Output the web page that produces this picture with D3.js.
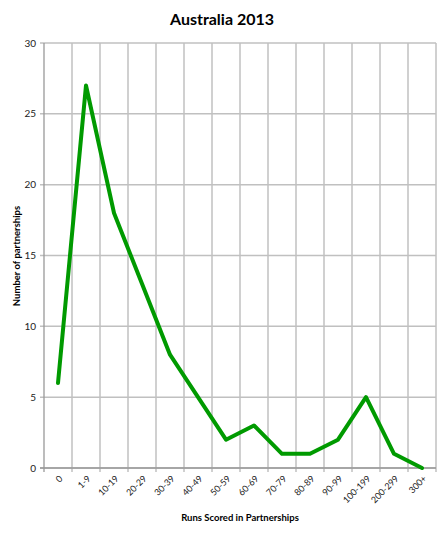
<!DOCTYPE html>
<html><head><meta charset="utf-8">
<script src="https://cdn.jsdelivr.net/npm/d3@7"></script>
<style>body{margin:0;background:#fff;} text{font-family:Lato,"Open Sans",sans-serif;}</style>
</head><body>
<svg id="c" width="445" height="534"></svg>
<script>
const categories = ["0","1-9","10-19","20-29","30-39","40-49","50-59","60-69","70-79","80-89","90-99","100-199","200-299","300+"];
const values = [6,27,18,13,8,5,2,3,1,1,2,5,1,0];
const yTicks = [0,5,10,15,20,25,30];

const svg = d3.select("#c");
const m = {l:44, r:436, t:43, b:468};
const x = d3.scaleBand().domain(categories).range([m.l, m.r]);
const y = d3.scaleLinear().domain([0,30]).range([m.b, m.t]);

// horizontal grid
svg.append("g").selectAll("line").data(yTicks).join("line")
  .attr("x1", m.l-4).attr("x2", m.r).attr("y1", d=>y(d)).attr("y2", d=>y(d))
  .attr("stroke", "#c0c0c0").attr("stroke-width", 1.5);
// vertical grid at category boundaries
const bounds = categories.map(c=>x(c)).concat([m.r]);
svg.append("g").selectAll("line").data(bounds.slice(1)).join("line")
  .attr("x1", d=>d).attr("x2", d=>d).attr("y1", m.t).attr("y2", m.b+4)
  .attr("stroke", "#c0c0c0").attr("stroke-width", 1.5);
// axes lines
svg.append("line").attr("x1", m.l).attr("x2", m.l).attr("y1", m.t).attr("y2", m.b+4)
  .attr("stroke", "#999").attr("stroke-width", 1.3);
svg.append("line").attr("x1", m.l-4).attr("x2", m.r).attr("y1", m.b).attr("y2", m.b)
  .attr("stroke", "#999").attr("stroke-width", 1.3);

// y tick labels
svg.append("g").selectAll("text").data(yTicks).join("text")
  .attr("x", m.l-8).attr("y", d=>y(d)).attr("dy", "0.35em")
  .attr("text-anchor", "end").attr("font-size", 10).attr("fill", "#222").text(d=>d);

// x tick labels
svg.append("g").selectAll("text").data(categories).join("text")
  .attr("transform", d=>`translate(${x(d)+x.bandwidth()/2+3},${m.b+9}) rotate(-45)`)
  .attr("text-anchor", "end").attr("dy", "0.35em")
  .attr("font-size", 9).attr("fill", "#222").text(d=>d);

// line
const line = d3.line().x((d,i)=>x(categories[i])+x.bandwidth()/2).y(d=>y(d));
svg.append("path").datum(values).attr("d", line)
  .attr("fill", "none").attr("stroke", "#009a00").attr("stroke-width", 4)
  .attr("stroke-linejoin", "round").attr("stroke-linecap", "round");

// titles
svg.append("text").attr("x", 222).attr("y", 25).attr("text-anchor", "middle")
  .attr("font-size", 16).attr("font-weight", "bold").text("Australia 2013");
svg.append("text").attr("x", 240).attr("y", 521).attr("text-anchor", "middle")
  .attr("font-size", 9.5).attr("font-weight", "bold").text("Runs Scored in Partnerships");
svg.append("text").attr("transform", "translate(20,256) rotate(-90)").attr("text-anchor", "middle")
  .attr("font-size", 9.5).attr("font-weight", "bold").text("Number of partnerships");
</script>
</body></html>
